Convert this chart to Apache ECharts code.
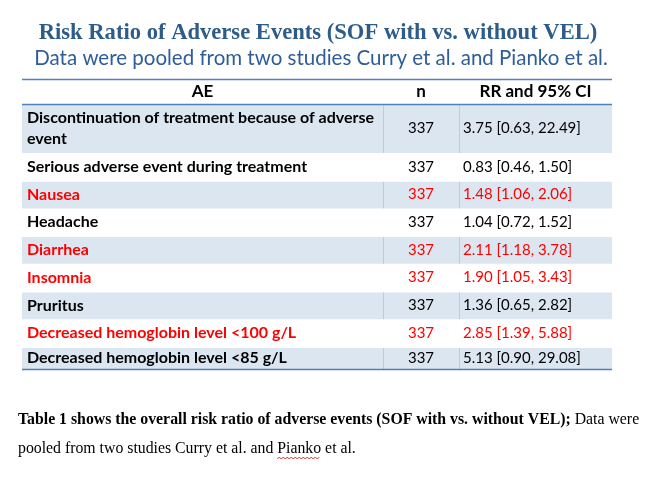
<!DOCTYPE html>
<html>
<head>
<meta charset="utf-8">
<script src="https://cdn.jsdelivr.net/npm/echarts@6/dist/echarts.min.js"></script>
<style>
html,body{margin:0;padding:0;background:#ffffff;}
#chart{width:670px;height:479px;}
</style>
</head>
<body>
<div id="chart"></div>
<script>
// ---------------- DATA ----------------
const headerLabels = ["AE", "n", "RR and 95% CI"];
const aeNames = [
  "Discontinuation of treatment because of adverse\nevent",
  "Serious adverse event during treatment",
  "Nausea",
  "Headache",
  "Diarrhea",
  "Insomnia",
  "Pruritus",
  "Decreased hemoglobin level <100 g/L",
  "Decreased hemoglobin level <85 g/L"
];
const nValues   = [337, 337, 337, 337, 337, 337, 337, 337, 337];
const rrValues  = [3.75, 0.83, 1.48, 1.04, 2.11, 1.90, 1.36, 2.85, 5.13];
const ciLower   = [0.63, 0.46, 1.06, 0.72, 1.18, 1.05, 0.65, 1.39, 0.90];
const ciUpper   = [22.49, 1.50, 2.06, 1.52, 3.78, 3.43, 2.82, 5.88, 29.08];

const titleText = "Risk Ratio of Adverse Events (SOF with vs. without VEL)";
const subtitleText = "Data were pooled from two studies Curry et al. and Pianko et al.";
const captionBold = "Table 1 shows the overall risk ratio of adverse events (SOF with vs. without VEL);";
const captionRest1 = " Data were";
const captionLine2Pre = "pooled from two studies Curry et al. and ";
const captionLine2Word = "Pianko";
const captionLine2Post = " et al.";

// ---------------- LAYOUT ----------------
const TABLE_W = 590, TABLE_H = 290;
const colEdges = [0, 361, 437, 590];
const headerH = 25;
const rowHeights = [49, 27.7, 27.7, 27.7, 27.7, 27.7, 27.7, 27.8, 22];
const rowTops = [];
(function(){ let t = headerH; rowHeights.forEach(h => { rowTops.push(t); t += h; }); })();

const BODY_FONT = "Lato";
const SHADE = "#dce6f1";
const RULE = "#4f81bd";
const SEP = "#b8cce4";
const CAP_SIZE = 15.8;

function fmt(v){ return v.toFixed(2); }

function renderRow(params, api) {
  const i = api.value(0);
  const top = rowTops[i], bot = top + rowHeights[i];
  const a = api.coord([0, top]);
  const b = api.coord([TABLE_W, bot]);
  const x0 = a[0], y0 = a[1], x1 = b[0], y1 = b[1];
  const children = [];
  const shaded = i % 2 === 0;
  if (shaded) {
    children.push({type:'rect', shape:{x:x0, y:y0+1, width:x1-x0, height:y1-y0-1}, style:{fill:SHADE}});
    [1,2].forEach(c => {
      const xs = Math.round(api.coord([colEdges[c], 0])[0]) + 0.5;
      children.push({type:'line', shape:{x1:xs, y1:y0+1, x2:xs, y2:y1}, style:{stroke:SEP, lineWidth:1}});
    });
  }
  const sig = ciLower[i] > 1;
  const color = sig ? '#ff0000' : '#000000';
  const cy = (y0 + y1) / 2;
  const c1 = api.coord([colEdges[1], 0])[0], c2 = api.coord([colEdges[2], 0])[0];
  children.push({type:'text', style:{x:x0+5, y:cy, text:aeNames[i], fill:color,
    font:'bold 16px ' + BODY_FONT, lineHeight:21, align:'left', verticalAlign:'middle'}});
  children.push({type:'text', style:{x:(c1+c2)/2, y:cy, text:String(nValues[i]), fill:color,
    font:'15px ' + BODY_FONT, align:'center', verticalAlign:'middle'}});
  children.push({type:'text', style:{x:c2+4, y:cy,
    text: fmt(rrValues[i]) + ' [' + fmt(ciLower[i]) + ', ' + fmt(ciUpper[i]) + ']',
    fill:color, font:'15px ' + BODY_FONT, align:'left', verticalAlign:'middle'}});
  return {type:'group', children};
}

function renderHeader(params, api) {
  const a = api.coord([0, 0]);
  const b = api.coord([TABLE_W, headerH]);
  const e = api.coord([TABLE_W, TABLE_H]);
  const x0 = a[0], x1 = b[0];
  const yTop = Math.round(a[1]) + 0.5, yHead = Math.round(b[1]) + 0.5, yBot = Math.round(e[1]) + 0.5;
  const cy = (a[1] + b[1]) / 2;
  const children = [];
  [yTop, yHead, yBot].forEach(y => children.push({type:'line', shape:{x1:x0, y1:y, x2:x1, y2:y},
    style:{stroke:RULE, lineWidth:1.4}}));
  headerLabels.forEach((lab, c) => {
    const l = api.coord([colEdges[c], 0])[0], r = api.coord([colEdges[c+1], 0])[0];
    children.push({type:'text', style:{x:(l+r)/2, y:cy, text:lab, fill:'#000',
      font:'bold 17px ' + BODY_FONT, align:'center', verticalAlign:'middle'}});
  });
  return {type:'group', children};
}

// measure for spellcheck underline position
const mctx = document.createElement('canvas').getContext('2d');
mctx.font = CAP_SIZE + 'px "Liberation Serif"';
const pre2W = mctx.measureText(captionLine2Pre).width;
const wordW = mctx.measureText(captionLine2Word).width;
const wave = [];
for (let k = 0; k * 2 <= wordW; k++) wave.push([18 + pre2W + k * 2, 458 + (k % 2 ? -1 : 1)]);

const chart = echarts.init(document.getElementById('chart'), null, {renderer:'canvas'});
chart.setOption({
  animation: false,
  backgroundColor: '#ffffff',
  grid: {left: 22, top: 79, width: TABLE_W, height: TABLE_H, containLabel: false},
  xAxis: {type:'value', min:0, max:TABLE_W, show:false},
  yAxis: {type:'value', min:0, max:TABLE_H, inverse:true, show:false},
  series: [
    {type:'custom', coordinateSystem:'cartesian2d', renderItem: renderRow,
      data: aeNames.map((_, i) => [i]), silent:true, z:2},
    {type:'custom', coordinateSystem:'cartesian2d', renderItem: renderHeader,
      data: [[0]], silent:true, z:3}
  ],
  graphic: [
    {type:'text', x:318, y:33, style:{text:titleText, fill:'#2e5c8a',
      font:'bold 22.6px "Liberation Serif"', align:'center', verticalAlign:'middle'}},
    {type:'text', x:321, y:58, style:{text:subtitleText, fill:'#2e5d9a',
      font:'20.5px ' + BODY_FONT, align:'center', verticalAlign:'middle'}},
    {type:'text', x:18, y:420, style:{
      text:'{b|' + captionBold + '}{r|' + captionRest1 + '}',
      verticalAlign:'middle', align:'left',
      rich:{b:{fontFamily:'Liberation Serif', fontWeight:'bold', fontSize:CAP_SIZE, fill:'#000'},
            r:{fontFamily:'Liberation Serif', fontSize:CAP_SIZE, fill:'#000'}}}},
    {type:'text', x:18, y:449, style:{text:captionLine2Pre + captionLine2Word + captionLine2Post,
      font:CAP_SIZE + 'px "Liberation Serif"', fill:'#000', align:'left', verticalAlign:'middle'}},
    {type:'polyline', shape:{points: wave}, style:{stroke:'#e00000', lineWidth:0.8, fill:null}}
  ]
});
</script>
</body>
</html>
